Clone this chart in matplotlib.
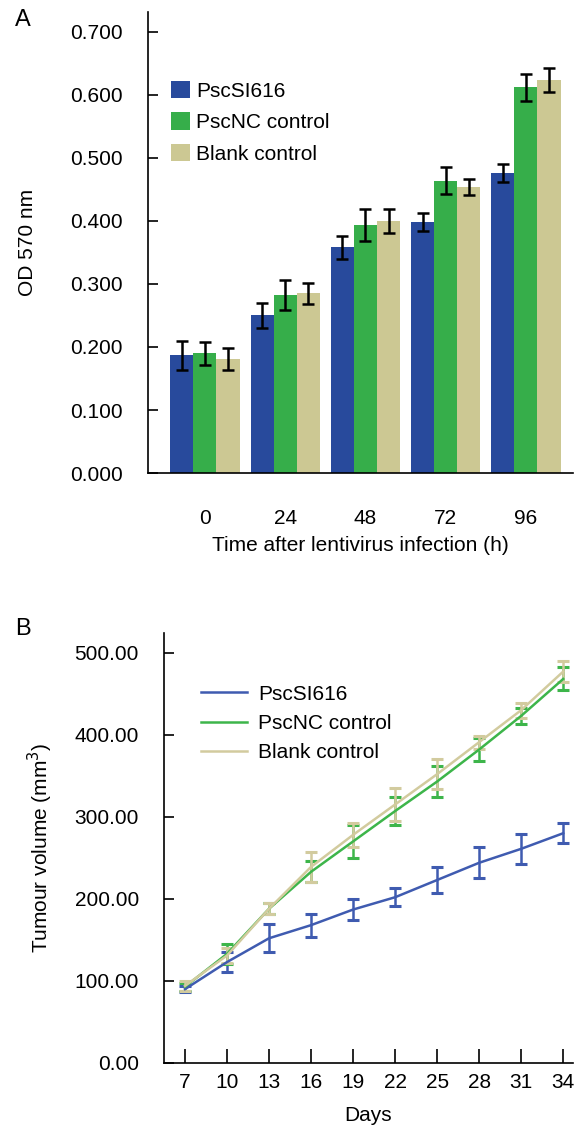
import numpy as np
import matplotlib.pyplot as plt

plt.rcParams['font.family'] = ['Liberation Sans', 'DejaVu Sans']
plt.rcParams['font.size'] = 15

# 数据 A
hours = ['0', '24', '48', '72', '96']
od_si = [0.187, 0.250, 0.358, 0.398, 0.476]
od_nc = [0.190, 0.283, 0.394, 0.464, 0.612]
od_blank = [0.181, 0.285, 0.400, 0.454, 0.623]
err_si = [0.023, 0.020, 0.018, 0.014, 0.014]
err_nc = [0.018, 0.024, 0.025, 0.021, 0.022]
err_blank = [0.017, 0.016, 0.019, 0.013, 0.019]

# 数据 B
days = [7, 10, 13, 16, 19, 22, 25, 28, 31, 34]
vol_si = [90, 123, 152, 168, 187, 202, 223, 244, 261, 280]
vol_nc = [93, 133, 188, 233, 270, 307, 343, 382, 423, 468]
vol_blank = [94, 131, 188, 239, 278, 315, 352, 391, 430, 477]
verr_si = [4, 12, 17, 14, 13, 11, 16, 19, 18, 12]
verr_nc = [5, 12, 7, 13, 20, 17, 19, 14, 10, 14]
verr_blank = [6, 9, 7, 18, 15, 20, 18, 8, 9, 13]

names = ['PscSI616', 'PscNC control', 'Blank control']
bar_colors = ['#284A9C', '#36AE4A', '#CCC893']
line_colors = ['#3F5BB0', '#3DB54A', '#D2CB9E']

fig = plt.figure(figsize=(5.75, 11.3), dpi=100)

# ---------- A ----------
ax = fig.add_axes([0.2574, 0.5814, 0.7391, 0.408])
x = np.arange(len(hours))
w = 0.287
for k, (vals, errs) in enumerate([(od_si, err_si), (od_nc, err_nc), (od_blank, err_blank)]):
    ax.bar(x + (k - 1) * w, vals, w, color=bar_colors[k], label=names[k],
           yerr=errs, error_kw=dict(ecolor='black', elinewidth=1.8, capsize=4.5, capthick=1.8))
ax.set_xlim(-0.71, 4.586)
ax.set_ylim(0, 0.7317)
ax.set_yticks(np.arange(0, 0.71, 0.1))
ax.set_yticklabels(['%.3f' % v for v in np.arange(0, 0.71, 0.1)])
ax.set_xticks(x)
ax.set_xticklabels(hours)
ax.tick_params(axis='y', direction='in', length=7, width=1.2, pad=18)
ax.tick_params(axis='x', length=0, pad=26)
ax.spines['top'].set_visible(False)
ax.spines['right'].set_visible(False)
ax.spines['left'].set_linewidth(1.2)
ax.spines['bottom'].set_linewidth(1.2)
ax.set_ylabel('OD 570 nm', labelpad=24)
ax.set_xlabel('Time after lentivirus infection (h)', labelpad=6)
ax.legend(loc='upper left', bbox_to_anchor=(0.055, 0.85), frameon=False,
          handlelength=0.9, handleheight=0.9, handletextpad=0.3, labelspacing=0.55,
          borderaxespad=0, borderpad=0)
fig.text(0.026, 0.982, 'A', fontsize=17, va='center')

# ---------- B ----------
bx = fig.add_axes([0.2852, 0.0593, 0.7113, 0.3805])
handles = []
for k, (vals, errs) in enumerate([(vol_si, verr_si), (vol_nc, verr_nc), (vol_blank, verr_blank)]):
    c = bx.errorbar(days, vals, yerr=errs, color=line_colors[k], lw=1.8, elinewidth=1.8,
                    capsize=4, capthick=2.2)
    c.lines[0].set_label(names[k])
    handles.append(c.lines[0])
bx.set_xlim(5.5, 34.7)
bx.set_ylim(0, 524)
bx.set_xticks(days)
bx.set_yticks(np.arange(0, 501, 100))
bx.set_yticklabels(['%.2f' % v for v in np.arange(0, 501, 100)])
bx.tick_params(axis='y', direction='in', length=7, width=1.2, pad=18)
bx.tick_params(axis='x', direction='in', length=10, width=1.2, pad=7)
bx.spines['top'].set_visible(False)
bx.spines['right'].set_visible(False)
bx.spines['left'].set_linewidth(1.2)
bx.spines['bottom'].set_linewidth(1.2)
bx.set_ylabel('Tumour volume (mm$^3$)', labelpad=14)
bx.set_xlabel('Days', labelpad=10)
bx.legend(handles=handles, loc='upper left', bbox_to_anchor=(0.09, 0.88), frameon=False,
          handlelength=2.2, handletextpad=0.55, labelspacing=0.5,
          borderaxespad=0, borderpad=0)
fig.text(0.026, 0.443, 'B', fontsize=17, va='center')

fig.savefig('out.png', dpi=100)
